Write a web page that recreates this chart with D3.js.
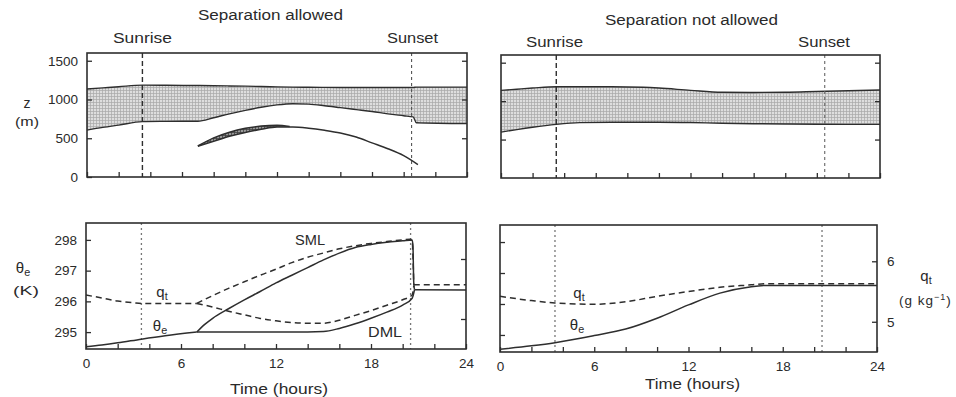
<!DOCTYPE html>
<html><head><meta charset="utf-8">
<script src="https://cdn.jsdelivr.net/npm/d3@7"></script>
<style>
body{margin:0;background:#fff;}
text{font-family:"Liberation Sans",Arial,Helvetica,sans-serif;fill:#2a2a2a;}
</style></head>
<body><svg id="chart" width="956" height="397"></svg>
<script>
// ---------- data ----------
const sunrise = 3.5, sunset = 20.5;
const xTicks = [0,2,4,6,8,10,12,14,16,18,20,22,24];
const xLabels = [0,6,12,18,24];
const zTicks = [0,500,1000,1500];
const thetaTicks = [295,296,297,298];
const qTicks = [5,6];

// Top-left: Separation allowed — cloud layer (m)
const sepBandT    = [0,1,2,3.5,5,7,8,9,10,11,12,13,14,15,16,17,18,19,20,20.6,20.8,24];
const sepBandTop  = [1135,1150,1165,1185,1183,1180,1178,1175,1172,1168,1163,1160,1158,1156,1155,1155,1155,1155,1155,1155,1160,1160];
const sepBandBase = [605,640,670,715,718,720,765,815,860,900,930,945,940,920,895,870,845,815,790,775,700,690];
// lower (decoupled) cloud
const sepLowT     = [7,8,9,10,11,12,12.8];
const sepLowTop   = [400,505,578,628,657,667,652];
const sepLowBase  = [396,460,525,575,615,645,648];
const sepLineT    = [7,8,9,10,11,12,13,14,15,16,17,18,19,20,20.9];
const sepLineZ    = [396,460,525,575,615,645,645,630,603,568,515,440,365,275,160];

// Top-right: Separation not allowed
const noSepT    = [0,1,2,3.5,5,7,9,10,12,14,16,18,20,22,24];
const noSepTop  = [1140,1155,1170,1187,1187,1187,1180,1170,1140,1115,1113,1115,1125,1135,1144];
const noSepBase = [597,630,660,697,720,726,726,726,722,712,706,703,700,698,697];

// Bottom-left: theta_e (K) and q_t (g/kg)
const sepThPreT = [0,1,2,3.5,5,7];
const sepThPre  = [294.52,294.58,294.65,294.77,294.88,295.0];
const smlThT = [7,7.5,8,9,10,11,12,13,14,15,16,17,18,19,20,20.6,20.65,20.7,20.75];
const smlTh  = [295.0,295.25,295.45,295.76,296.05,296.32,296.6,296.85,297.1,297.35,297.57,297.75,297.85,297.92,297.97,298.0,297.8,296.6,296.38];
const dmlThT = [7,9,11,13,15,16,17,18,19,20,20.6,20.75];
const dmlTh  = [295.0,295.0,295.0,295.0,295.02,295.12,295.27,295.45,295.65,295.88,296.1,296.38];
const sepThPostT = [20.75,24];
const sepThPost  = [296.38,296.37];

const sepQPreT = [0,1,2,3,3.5,5,7];
const sepQPre  = [5.40,5.35,5.30,5.27,5.26,5.26,5.26];
const smlQT = [7,8,9,10,11,12,13,14,15,16,17,18,19,20,20.5,20.6,20.7];
const smlQ  = [5.26,5.39,5.51,5.62,5.73,5.83,5.94,6.03,6.10,6.17,6.22,6.26,6.29,6.32,6.33,6.3,5.57];
const dmlQT = [7,8,9,10,11,12,13,14,15,16,17,18,19,20,20.6,20.7];
const dmlQ  = [5.26,5.20,5.13,5.07,5.01,4.97,4.94,4.93,4.93,4.98,5.06,5.14,5.23,5.32,5.40,5.55];
const sepQPostT = [20.7,24];
const sepQPost  = [5.57,5.57];

// Bottom-right
const noSepThT = [0,2,3.5,6,8,10,12,14,16,17,24];
const noSepTh  = [294.54,294.65,294.75,294.98,295.19,295.54,295.97,296.35,296.56,296.6,296.6];
const noSepQT  = [0,2,3.5,6,8,10,12,14,16,17,24];
const noSepQ   = [5.42,5.35,5.31,5.29,5.33,5.42,5.50,5.57,5.61,5.63,5.63];

// ---------- drawing ----------
const svg = d3.select("#chart");
const ink = "#2e2e2e";
const defs = svg.append("defs");
const p1 = defs.append("pattern").attr("id","band").attr("width",3).attr("height",3).attr("patternUnits","userSpaceOnUse");
p1.append("rect").attr("width",3).attr("height",3).attr("fill","#dedede");
p1.append("path").attr("d","M0,0.5H3M0.5,0V3").attr("stroke","#a8a8a8").attr("stroke-width",0.7);
const p2 = defs.append("pattern").attr("id","low").attr("width",3).attr("height",3).attr("patternUnits","userSpaceOnUse");
p2.append("rect").attr("width",3).attr("height",3).attr("fill","#9a9a9a");
p2.append("path").attr("d","M0,0.5H3M0.5,0V3").attr("stroke","#444").attr("stroke-width",0.8);

const panels = {
  TL:{x0:87,x1:467,y0:53,y1:177},
  TR:{x0:501,x1:880,y0:55,y1:178},
  BL:{x0:86,x1:466,y0:223,y1:349},
  BR:{x0:500,x1:877,y0:225,y1:352}
};
function mk(p){
  p.x = d3.scaleLinear().domain([0,24]).range([p.x0,p.x1]);
  p.z = d3.scaleLinear().domain([0,1600]).range([p.y1,p.y0]);
  p.th = d3.scaleLinear().domain([294.45,298.55]).range([p.y1,p.y0]);
  p.q = d3.scaleLinear().domain([4.5,6.6]).range([p.y1,p.y0]);
}
Object.values(panels).forEach(mk);

function zip(t,v){return t.map((d,i)=>[d,v[i]]);}

function axes(p, top, leftLabels, rightLabels){
  const yS = top ? p.z : p.th;
  const yT = top ? zTicks.filter(d=>d>0) : thetaTicks;
  const gx = svg.append("g").attr("transform",`translate(0,${p.y1})`)
    .call(d3.axisBottom(p.x).tickValues(xTicks).tickSize(-5).tickPadding(9)
      .tickFormat(d => (!top && xLabels.includes(d)) ? d : ""));
  const gl = svg.append("g").attr("transform",`translate(${p.x0},0)`)
    .call(d3.axisLeft(yS).tickValues(leftLabels && top ? zTicks : yT).tickSize(-5).tickPadding(9)
      .tickFormat(d => leftLabels ? d : ""));
  const rS = top ? p.z : p.q;
  const rT = top ? [500,1000,1500] : qTicks;
  const gr = svg.append("g").attr("transform",`translate(${p.x1},0)`)
    .call(d3.axisRight(rS).tickValues(rT).tickSize(-5).tickPadding(10)
      .tickFormat(d => rightLabels ? d : ""));
  [gx,gl,gr].forEach(g=>{
    g.select(".domain").remove();
    g.selectAll("line").attr("stroke",ink).attr("stroke-width",1.3);
    g.selectAll("text").attr("font-size",13.5).attr("fill","#2a2a2a").style("font-family","'Liberation Sans',Arial,sans-serif");
  });
  svg.append("rect").attr("x",p.x0).attr("y",p.y0).attr("width",p.x1-p.x0).attr("height",p.y1-p.y0)
    .attr("fill","none").attr("stroke",ink).attr("stroke-width",1.6);
}

function vline(p, t, dash, col, w){
  svg.append("line").attr("x1",p.x(t)).attr("x2",p.x(t)).attr("y1",p.y0).attr("y2",p.y1)
    .attr("stroke",col).attr("stroke-width",w).attr("stroke-dasharray",dash);
}

function band(p, t, top, base, fill){
  const d = t.map((v,i)=>({t:v,a:top[i],b:base[i]}));
  svg.append("path").datum(d).attr("fill",fill)
    .attr("d", d3.area().x(e=>p.x(e.t)).y0(e=>p.z(e.b)).y1(e=>p.z(e.a)).curve(d3.curveMonotoneX));
  svg.append("path").datum(zip(t,top)).attr("fill","none").attr("stroke",ink).attr("stroke-width",1.4)
    .attr("d", d3.line().x(e=>p.x(e[0])).y(e=>p.z(e[1])).curve(d3.curveMonotoneX));
  svg.append("path").datum(zip(t,base)).attr("fill","none").attr("stroke",ink).attr("stroke-width",1.4)
    .attr("d", d3.line().x(e=>p.x(e[0])).y(e=>p.z(e[1])).curve(d3.curveMonotoneX));
}

function curve(p, ys, t, v, dashed){
  svg.append("path").datum(zip(t,v)).attr("fill","none").attr("stroke",ink).attr("stroke-width",1.5)
    .attr("stroke-dasharray", dashed ? "6,4" : null)
    .attr("d", d3.line().x(e=>p.x(e[0])).y(e=>ys(e[1])).curve(d3.curveMonotoneX));
}

// Top-left
let P = panels.TL;
band(P, sepBandT, sepBandTop, sepBandBase, "url(#band)");
svg.append("path").datum(sepLowT.map((v,i)=>({t:v,a:sepLowTop[i],b:sepLowBase[i]}))).attr("fill","url(#low)")
  .attr("d", d3.area().x(e=>P.x(e.t)).y0(e=>P.z(e.b)).y1(e=>P.z(e.a)).curve(d3.curveMonotoneX));
curve(P, P.z, sepLowT, sepLowTop, false);
curve(P, P.z, sepLineT, sepLineZ, false);
vline(P, sunrise, "5,3", ink, 1.4);
vline(P, sunset, "3,3", "#555", 1.1);
axes(P, true, true, false);

// Top-right
P = panels.TR;
band(P, noSepT, noSepTop, noSepBase, "url(#band)");
vline(P, sunrise, "5,3", ink, 1.4);
vline(P, sunset, "3,3", "#666", 1.1);
axes(P, true, false, false);

// Bottom-left
P = panels.BL;
vline(P, sunrise, "2,3", "#777", 1.3);
vline(P, sunset, "2,3", "#777", 1.3);
curve(P, P.th, sepThPreT, sepThPre, false);
curve(P, P.th, smlThT, smlTh, false);
curve(P, P.th, dmlThT, dmlTh, false);
curve(P, P.th, sepThPostT, sepThPost, false);
curve(P, P.q, sepQPreT, sepQPre, true);
curve(P, P.q, smlQT, smlQ, true);
curve(P, P.q, dmlQT, dmlQ, true);
curve(P, P.q, sepQPostT, sepQPost, true);
axes(P, false, true, false);

// Bottom-right
P = panels.BR;
vline(P, sunrise, "2,3", "#777", 1.3);
vline(P, sunset, "2,3", "#777", 1.3);
curve(P, P.th, noSepThT, noSepTh, false);
curve(P, P.q, noSepQT, noSepQ, true);
axes(P, false, false, true);

// ---------- text ----------
function txt(x,y,s,anchor,size,w){
  const t = svg.append("text").attr("x",x).attr("y",y).attr("text-anchor",anchor||"middle")
    .attr("font-size",size||13.5).text(s);
  if (w) t.attr("textLength",w).attr("lengthAdjust","spacingAndGlyphs");
  return t;
}
function sub(x,y,main,subs,anchor,size){
  const t = svg.append("text").attr("x",x).attr("y",y).attr("text-anchor",anchor||"middle").attr("font-size",size||15);
  t.append("tspan").text(main);
  t.append("tspan").attr("dy",3).attr("font-size",(size||15)*0.72).text(subs);
  return t;
}
txt(198,20,"Separation allowed","start",14,145);
txt(113,43,"Sunrise","start",14,59);
txt(387,43,"Sunset","start",14,51);
txt(605,25,"Separation not allowed","start",14,173);
txt(526,47,"Sunrise","start",14,57);
txt(798,47,"Sunset","start",14,52);

txt(27,108,"z","middle",14);
txt(27,126,"(m)","middle",13,24);
sub(23,273,"θ","e");
txt(26,295,"(K)","middle",13,26);

txt(230,394,"Time (hours)","start",14,98);
txt(645,389,"Time (hours)","start",14,95);

sub(926,281,"q","t");
const u = svg.append("text").attr("x",899).attr("y",305).attr("text-anchor","start")
  .attr("font-size",13.5).attr("letter-spacing",1);
u.append("tspan").text("(g kg");
u.append("tspan").attr("dy",-5).attr("font-size",9).text("−1");
u.append("tspan").attr("dy",5).text(")");

txt(295,245,"SML","start",14,30);
txt(368,337,"DML","start",14,34);
sub(162,297,"q","t");
sub(160,331,"θ","e");
sub(579,298,"q","t");
sub(577,330,"θ","e");
</script></body></html>
